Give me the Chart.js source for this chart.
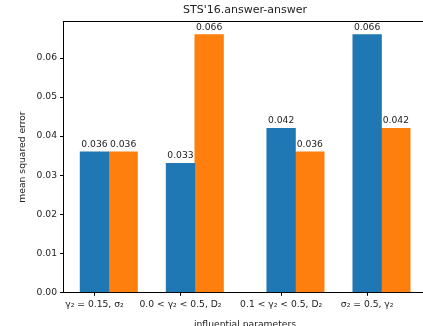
<!DOCTYPE html>
<html>
<head>
<meta charset="utf-8">
<script src="https://cdn.jsdelivr.net/npm/chart.js@4/dist/chart.umd.min.js"></script>
<style>
  html, body { margin: 0; padding: 0; overflow: hidden; background: #fff; }
</style>
</head>
<body>
<canvas id="chart" width="440" height="332"></canvas>
<script>
const categories = ['γ₂ = 0.15, σ₂', '0.0 < γ₂ < 0.5, D₂', '0.1 < γ₂ < 0.5, D₂', 'σ₂ = 0.5, γ₂'];
const groupPositions = [0, 1, 2.17, 3.17];
const seriesA = [0.036, 0.033, 0.042, 0.066];
const seriesB = [0.036, 0.066, 0.036, 0.042];
const yTicks = [0, 0.01, 0.02, 0.03, 0.04, 0.05, 0.06];
const barWidth = 1 / 3;

const FONT = 'DejaVu Sans';
const TEXT = '#222';

// value labels above each bar
const valueLabels = {
  id: 'valueLabels',
  afterDatasetsDraw(chart) {
    const ctx = chart.ctx;
    ctx.save();
    ctx.font = '9.2px "' + FONT + '"';
    ctx.fillStyle = TEXT;
    ctx.textAlign = 'center';
    ctx.textBaseline = 'alphabetic';
    chart.data.datasets.forEach((ds, i) => {
      chart.getDatasetMeta(i).data.forEach((bar, j) => {
        ctx.fillText(ds.data[j].y.toFixed(3), bar.x, bar.y - 5);
      });
    });
    ctx.restore();
  }
};

const ctx = document.getElementById('chart').getContext('2d');
new Chart(ctx, {
  type: 'bar',
  data: {
    datasets: [
      {
        label: 'series 1',
        data: groupPositions.map((x, i) => ({ x: x, y: seriesA[i] })),
        backgroundColor: '#1f77b4'
      },
      {
        label: 'series 2',
        data: groupPositions.map((x, i) => ({ x: x + barWidth, y: seriesB[i] })),
        backgroundColor: '#ff7f0e'
      }
    ]
  },
  options: {
    responsive: false,
    animation: false,
    devicePixelRatio: 1,
    grouped: false,
    categoryPercentage: 1,
    barPercentage: 1,
    layout: { padding: { left: 0, right: 13.5, top: 0, bottom: 0 } },
    plugins: {
      legend: { display: false },
      tooltip: { enabled: false },
      title: { display: false }
    },
    scales: {
      x: {
        type: 'linear',
        position: 'bottom',
        offset: false,
        min: -0.36,
        max: 3.86,
        afterBuildTicks: (scale) => { scale.ticks = groupPositions.map(v => ({ value: v })); },
        afterFit: (scale) => { scale.height = 39.7; },
        ticks: {
          font: { family: FONT, size: 9.2 },
          color: TEXT,
          padding: 3,
          maxRotation: 0,
          autoSkip: false,
          callback: (v) => categories[groupPositions.indexOf(v)]
        },
        grid: { offset: false, drawOnChartArea: false, drawTicks: true, tickLength: 3.5, color: '#000' },
        border: { display: true, color: '#000', width: 1 },
        title: {
          display: true,
          text: 'influential parameters',
          font: { family: FONT, size: 9.2 },
          color: TEXT,
          padding: { top: 0, bottom: 1.5 }
        }
      },
      top: {
        type: 'linear',
        position: 'top',
        offset: false,
        min: -0.36,
        max: 3.86,
        afterFit: (scale) => { scale.height = 21.7; },
        ticks: { display: false },
        grid: { offset: false, drawOnChartArea: false, drawTicks: false },
        border: { display: true, color: '#000', width: 1 },
        title: {
          display: true,
          text: "STS'16.answer-answer",
          font: { family: FONT, size: 11 },
          color: TEXT,
          padding: { top: 3.4, bottom: 0 }
        }
      },
      y: {
        min: 0,
        max: 0.0693,
        afterBuildTicks: (scale) => { scale.ticks = yTicks.map(v => ({ value: v })); },
        afterFit: (scale) => { scale.width = 63.5; },
        ticks: {
          font: { family: FONT, size: 9.2 },
          color: TEXT,
          padding: 3,
          callback: (v) => v.toFixed(2)
        },
        grid: { drawOnChartArea: false, drawTicks: true, tickLength: 3.5, color: '#000' },
        border: { display: true, color: '#000', width: 1 },
        title: {
          display: true,
          text: 'mean squared error',
          font: { family: FONT, size: 9.2 },
          color: TEXT,
          padding: { top: 17, bottom: 0 }
        }
      }
    }
  },
  plugins: [valueLabels]
});
</script>
</body>
</html>
